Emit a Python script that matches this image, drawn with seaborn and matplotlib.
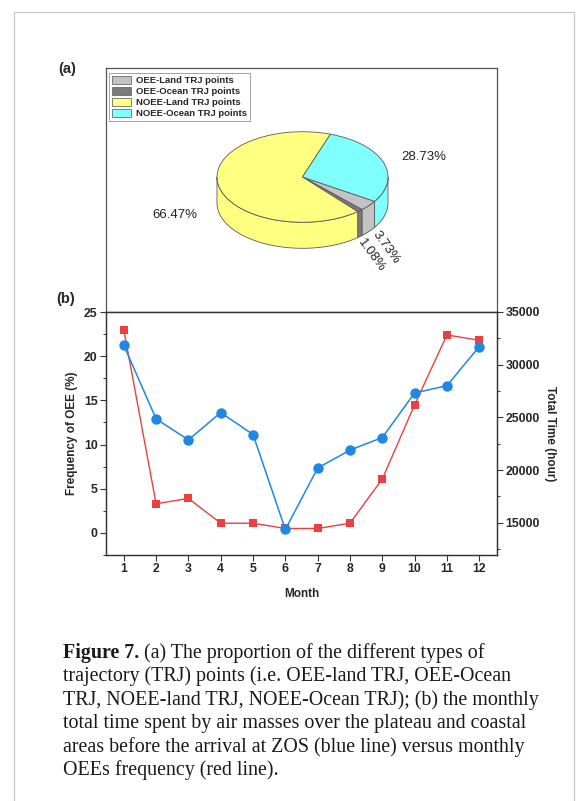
import numpy as np
import matplotlib
matplotlib.use("Agg")
import matplotlib.pyplot as plt
import seaborn as sns
import pandas as pd
from matplotlib.patches import Patch, Rectangle
from matplotlib.ticker import MultipleLocator

# ---------------- data ----------------
pie_labels = ["OEE-Land TRJ points", "OEE-Ocean TRJ points",
              "NOEE-Land TRJ points", "NOEE-Ocean TRJ points"]
pie_values = [3.73, 1.08, 66.47, 28.73]
pie_colors = ["#c3c3c3", "#7a7a7a", "#ffff80", "#80ffff"]

months = list(range(1, 13))
oee_freq = [23.0, 3.3, 3.9, 1.1, 1.1, 0.5, 0.5, 1.1, 6.1, 14.5, 22.4, 21.8]
total_time = [31850, 24860, 22870, 25460, 23380, 14370,
              20200, 21900, 23090, 27320, 28010, 31720]

freq_ticks = [0, 5, 10, 15, 20, 25]
time_ticks = [15000, 20000, 25000, 30000, 35000]

caption_lines = [
    " (a) The proportion of the different types of",
    "trajectory (TRJ) points (i.e. OEE-land TRJ, OEE-Ocean",
    "TRJ, NOEE-land TRJ, NOEE-Ocean TRJ); (b) the monthly",
    "total time spent by air masses over the plateau and coastal",
    "areas before the arrival at ZOS (blue line) versus monthly",
    "OEEs frequency (red line).",
]

RED = "#ec4040"
BLUE = "#1f88e5"

sns.set_theme(style="ticks")
plt.rcParams["font.family"] = ["Liberation Sans", "DejaVu Sans"]

W, H = 577, 801
fig = plt.figure(figsize=(W / 100, H / 100), dpi=100)


def fbox(x0, y0, x1, y1):
    return [x0 / W, 1 - y1 / H, (x1 - x0) / W, (y1 - y0) / H]


def fx(px):
    return px / W


def fy(py):
    return 1 - py / H


# ---------------- panel (a) frame ----------------
A_BOX = (106, 68, 497, 312)
ax_a = fig.add_axes(fbox(*A_BOX))
ax_a.set_xticks([])
ax_a.set_yticks([])
ax_a.set_xlim(A_BOX[0], A_BOX[2])
ax_a.set_ylim(A_BOX[3], A_BOX[1])
for s in ax_a.spines.values():
    s.set_color("#555555")
    s.set_linewidth(0.9)

handles = [Patch(facecolor=c, edgecolor="#6a6a6a", linewidth=0.6, label=l)
           for c, l in zip(pie_colors, pie_labels)]
leg = ax_a.legend(handles=handles, loc="upper left",
                  bbox_to_anchor=(3 / 391, 1 - 5 / 244), borderaxespad=0,
                  prop=dict(family="Liberation Sans", weight="bold", size=6.8),
                  frameon=True, fancybox=False, edgecolor="#8a8a8a",
                  handlelength=2.0, handleheight=0.85, labelspacing=0.2,
                  handletextpad=0.5, borderpad=0.35)
leg.get_frame().set_linewidth(0.7)

# ---------------- 3D pie ----------------
cx, cy, rx, ry, depth = 302.5, 177.0, 85.5, 45.3, 26.0
ax_p = fig.add_axes(fbox(*A_BOX), frameon=False)
wedges, _ = ax_p.pie(pie_values, colors=pie_colors, startangle=-32.5,
                     counterclock=False, radius=1,
                     wedgeprops=dict(edgecolor="#5a5a5a", linewidth=0.6))
ax_p.set_aspect("auto")
ax_p.set_xlim((A_BOX[0] - cx) / rx, (A_BOX[2] - cx) / rx)
ax_p.set_ylim((cy - A_BOX[3]) / ry, (cy - A_BOX[1]) / ry)
ax_p.set_xticks([])
ax_p.set_yticks([])
ax_p.patch.set_alpha(0)

d = depth / ry
for w, col in zip(wedges, pie_colors):
    for k in range(-3, 3):
        lo = max(w.theta1, 180 + 360 * k)
        hi = min(w.theta2, 360 + 360 * k)
        if hi <= lo:
            continue
        t = np.deg2rad(np.linspace(lo, hi, 120))
        xs, ys = np.cos(t), np.sin(t)
        px = np.concatenate([xs, xs[::-1]])
        py = np.concatenate([ys, ys[::-1] - d])
        ax_p.fill(px, py, facecolor=col, edgecolor="#5a5a5a",
                  linewidth=0.6, zorder=0.5)

pct = [f"{v:.2f}%" for v in pie_values]
lab_kw = dict(fontsize=9.5, color="#222222", family="Liberation Sans")
ax_a.text(424, 157, pct[3], ha="center", va="center", **lab_kw)
ax_a.text(175, 215.5, pct[2], ha="center", va="center", **lab_kw)
ax_a.text(386, 247, pct[0], ha="center", va="center", rotation=-54,
          rotation_mode="anchor", **lab_kw)
ax_a.text(371, 256, pct[1], ha="center", va="center", rotation=-54,
          rotation_mode="anchor", **lab_kw)

# ---------------- panel (b) ----------------
ax_b = fig.add_axes(fbox(106, 312, 497, 555))
df = pd.DataFrame({"Month": months, "freq": oee_freq, "time": total_time})
sns.lineplot(data=df, x="Month", y="freq", ax=ax_b, color=RED, marker="s",
             markersize=6, markeredgewidth=0, linewidth=1.0)
ax_r = ax_b.twinx()
sns.lineplot(data=df, x="Month", y="time", ax=ax_r, color=BLUE, marker="o",
             markersize=7.5, markeredgewidth=0, linewidth=1.1)

ax_b.set_xlim(0.45, 12.55)
ax_b.set_xticks(months)
ax_b.set_ylim(-2.5, 25)
ax_b.set_yticks(freq_ticks)
ax_b.yaxis.set_minor_locator(MultipleLocator(2.5))
ax_r.set_ylim(11950, 35000)
ax_r.set_yticks(time_ticks)
ax_r.yaxis.set_minor_locator(MultipleLocator(2500))

for ax in (ax_b, ax_r):
    ax.tick_params(axis="both", which="major", direction="out", length=4,
                   width=0.8, labelsize=8.8, pad=2, color="#333333")
    ax.tick_params(axis="both", which="minor", direction="out", length=2.5,
                   width=0.7, color="#333333")
    for s in ax.spines.values():
        s.set_color("#333333")
        s.set_linewidth(0.9)
for lbl in (ax_b.get_xticklabels() + ax_b.get_yticklabels()
            + ax_r.get_yticklabels()):
    lbl.set_fontweight("bold")

ax_b.set_xlabel("Month", fontsize=8.5, fontweight="bold", labelpad=9)
ax_b.set_ylabel("Frequency of OEE (%)", fontsize=8.5, fontweight="bold",
                labelpad=4)
ax_r.set_ylabel("Total Time (hour)", fontsize=8.5, fontweight="bold",
                rotation=270, labelpad=12)

# panel letters
fig.text(fx(67), fy(69), "(a)", fontsize=10.5, fontweight="bold",
         ha="center", va="center")
fig.text(fx(66), fy(299), "(b)", fontsize=10.5, fontweight="bold",
         ha="center", va="center")

# ---------------- caption ----------------
cap_kw = dict(fontsize=14.4, family="Liberation Serif", color="#1a1a1a",
              va="baseline", ha="left")
y0 = 658
dy = 23.4
t0 = fig.text(fx(63), fy(y0), "Figure 7.", fontweight="bold", **cap_kw)
fig.canvas.draw()
bb = t0.get_window_extent(renderer=fig.canvas.get_renderer())
fig.text(bb.x1 / W, fy(y0), caption_lines[0], **cap_kw)
for i, line in enumerate(caption_lines[1:], start=1):
    fig.text(fx(63), fy(y0 + i * dy), line, **cap_kw)

# outer page border
fig.add_artist(Rectangle((fx(14), -0.01), (574 - 14) / W, fy(12) + 0.01,
                         transform=fig.transFigure, fill=False,
                         edgecolor="#c4c4c4", linewidth=0.8))

fig.savefig("out.png", dpi=100)
